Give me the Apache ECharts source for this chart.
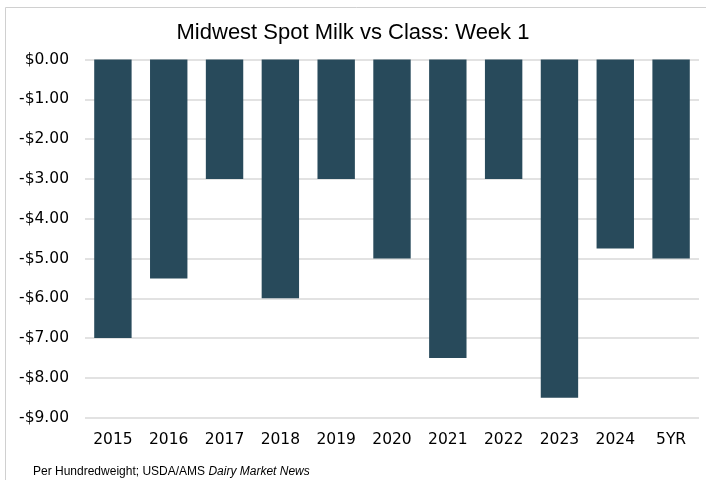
<!DOCTYPE html>
<html>
<head>
<meta charset="utf-8">
<script src="https://cdn.jsdelivr.net/npm/echarts@6/dist/echarts.min.js"></script>
<style>
html,body{margin:0;padding:0;background:#fff;}
#chart{width:706px;height:480px;}
</style>
</head>
<body>
<div id="chart"></div>
<script>
const categories = ['2015','2016','2017','2018','2019','2020','2021','2022','2023','2024','5YR'];
const values = [-7.00, -5.50, -3.00, -6.00, -3.00, -5.00, -7.50, -3.00, -8.50, -4.75, -5.00];
const titleText = 'Midwest Spot Milk vs Class: Week 1';
const footerPlain = 'Per Hundredweight; USDA/AMS ';
const footerItalic = 'Dairy Market News';

const chart = echarts.init(document.getElementById('chart'), null, {renderer:'canvas'});
function fmt(v){
  if (Math.abs(v) < 1e-9) return '$0.00';
  return (v < 0 ? '-$' : '$') + Math.abs(v).toFixed(2);
}
chart.setOption({
  animation:false,
  backgroundColor:'#fff',
  title:[{
    text:titleText,
    left:'center',
    top:17,
    textStyle:{fontFamily:'Liberation Sans',fontSize:22,fontWeight:'normal',color:'#000'}
  },{
    text:'{a|' + footerPlain + '}{b|' + footerItalic + '}',
    left:28,
    top:461,
    textStyle:{
      fontWeight:'normal',
      rich:{
        a:{fontFamily:'Liberation Sans',fontSize:12,fontWeight:'normal',color:'#000'},
        b:{fontFamily:'Liberation Sans',fontSize:12,fontWeight:'normal',fontStyle:'italic',color:'#000'}
      }
    }
  }],
  graphic:[{
    type:'rect',
    shape:{x:5.5,y:7.5,width:900,height:700},
    style:{fill:'none',stroke:'#d0d0d0',lineWidth:1},
    silent:true
  }],
  grid:{left:85,right:7,top:59.5,bottom:62.3,containLabel:false,outerBoundsMode:'none'},
  xAxis:{
    type:'category',
    data:categories,
    axisLine:{show:false,onZero:false},
    axisTick:{show:false},
    axisLabel:{fontFamily:'DejaVu Sans',fontSize:15.5,color:'#000',margin:14}
  },
  yAxis:{
    type:'value',
    min:-9,max:0,interval:1,
    axisLine:{show:false},
    axisTick:{show:false},
    splitLine:{lineStyle:{color:'#d9d9d9',width:1.5}},
    axisLabel:{fontFamily:'DejaVu Sans',fontSize:15.5,color:'#000',margin:16,formatter:fmt}
  },
  series:[{
    type:'bar',
    data:values,
    barWidth:'67%',
    itemStyle:{color:'#284a5b'}
  }]
});
</script>
</body>
</html>
